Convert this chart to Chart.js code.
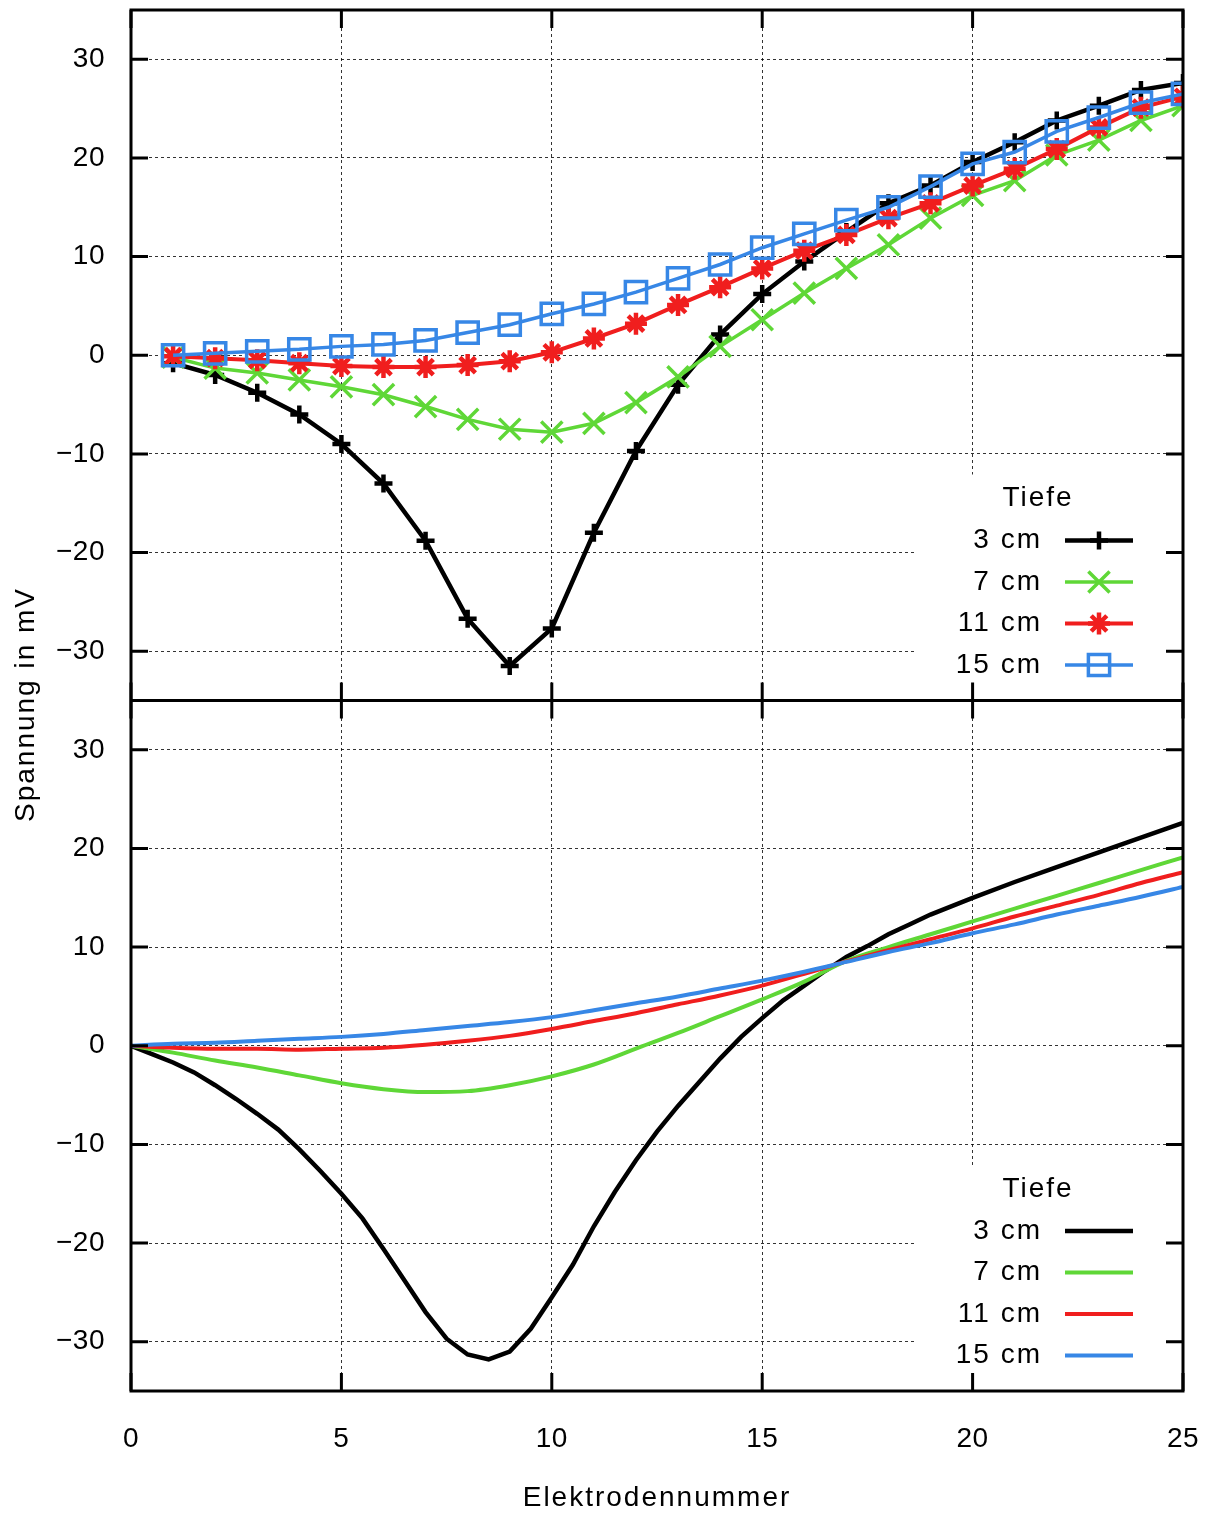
<!DOCTYPE html>
<html>
<head>
<meta charset="utf-8">
<script src="https://cdn.jsdelivr.net/npm/chart.js@4.4.0/dist/chart.umd.min.js"></script>
<style>
  html, body { margin: 0; padding: 0; background: #fff; }
  #c { display: block; }
</style>
</head>
<body>
<canvas id="c" width="1215" height="1515"></canvas>
<script>
// Messwerte (oben): Elektroden 1..25
const electrodes = [1,2,3,4,5,6,7,8,9,10,11,12,13,14,15,16,17,18,19,20,21,22,23,24,25]
const meas3cm  = [-0.8,-2.0,-3.8,-6.0,-9.0,-13.0,-18.8,-26.7,-31.5,-27.7,-18.0,-9.7,-3.0,2.1,6.2,9.5,12.5,15.4,17.2,19.6,21.6,23.8,25.3,26.9,27.6]
const meas7cm  = [-0.2,-1.3,-1.8,-2.5,-3.2,-4.0,-5.2,-6.5,-7.5,-7.8,-6.9,-4.8,-2.2,0.9,3.6,6.3,8.8,11.2,13.9,16.2,17.7,20.3,21.8,23.8,25.3]
const meas11cm = [-0.1,-0.3,-0.5,-0.8,-1.1,-1.2,-1.2,-1.0,-0.6,0.3,1.7,3.2,5.1,6.9,8.8,10.6,12.2,13.9,15.4,17.2,18.9,20.9,23.1,25.1,26.2]
const meas15cm = [0.0,0.2,0.4,0.6,0.9,1.1,1.5,2.3,3.1,4.2,5.2,6.4,7.8,9.2,10.9,12.3,13.7,15.0,17.1,19.4,20.6,22.7,24.1,25.6,26.5]

// Simulation (unten)
const simX = [0,1,2,3,4,5,6,7,8,9,10,11,12,13,14,15,16,17,18,19,20,21,22,23,24,25]
const sim7cm  = [0,-0.7,-1.5,-2.2,-3.0,-3.8,-4.4,-4.7,-4.6,-4.0,-3.1,-1.9,-0.3,1.3,3.0,4.7,6.5,8.6,10.0,11.3,12.6,13.9,15.2,16.5,17.8,19.1]
const sim11cm = [0,-0.2,-0.3,-0.3,-0.4,-0.3,-0.2,0.1,0.5,1.0,1.7,2.5,3.3,4.2,5.1,6.1,7.3,8.55,9.7,10.8,11.9,13.1,14.2,15.3,16.5,17.6]
const sim15cm = [0,0.2,0.3,0.5,0.7,0.9,1.2,1.6,2.0,2.4,2.9,3.6,4.3,5.0,5.8,6.6,7.5,8.5,9.5,10.4,11.4,12.3,13.3,14.2,15.1,16.1]
const simFineX = [0,0.5,1,1.5,2,2.5,3,3.5,4,4.5,5,5.5,6,6.5,7,7.5,8,8.5,9,9.5,10,10.5,11,11.5,12,12.5,13,13.5,14,14.5,15,15.5,16,16.5,17,17.5,18,18.5,19,20,21,22,23,24,25]
const sim3cm  = [0,-0.85,-1.7,-2.7,-4.0,-5.4,-6.9,-8.5,-10.5,-12.7,-15.0,-17.5,-20.6,-23.8,-27.0,-29.7,-31.3,-31.8,-31.0,-28.7,-25.5,-22.2,-18.3,-14.8,-11.6,-8.7,-6.1,-3.7,-1.3,0.9,2.8,4.6,6.1,7.6,9.0,10.1,11.3,12.3,13.3,15.0,16.6,18.1,19.6,21.1,22.6]

const xTicks = [0,5,10,15,20,25]
const yTicks = [-30,-20,-10,0,10,20,30]
const depthLabels = ['3 cm','7 cm','11 cm','15 cm']

const FONT = '"Liberation Sans", Arial, Helvetica, sans-serif'
const colors = ['#000000', 'rgb(95,215,55)', 'rgb(240,30,30)', 'rgb(55,135,230)']
const styles = [
    {pointStyle: 'cross', radius: 9, width: 4.5, pw: 4.5},
    {pointStyle: 'crossRot', radius: 15, width: 3.5, pw: 3.5},
    {pointStyle: 'star', radius: 11, width: 4, pw: 4.5},
    {pointStyle: 'rect', radius: 15, width: 3.5, pw: 3.5}
]

function pts(xs, ys) {
    return xs.map((x, i) => ({x: x, y: ys[i]}))
}
function minus(v) {
    return String(v).replace('-', '\u2212')
}

let datasets = []
let measSets = [meas3cm, meas7cm, meas11cm, meas15cm]
measSets.forEach((vals, i) => {
    datasets.push({
        label: depthLabels[i],
        data: pts(electrodes, vals),
        yAxisID: 'yTop',
        borderColor: colors[i],
        borderWidth: styles[i].width,
        pointStyle: styles[i].pointStyle,
        pointRadius: styles[i].radius,
        pointBorderWidth: styles[i].pw,
        pointBorderColor: colors[i],
        pointBackgroundColor: 'rgba(0,0,0,0)',
        tension: 0,
        order: 4 - i
    })
})
let simSets = [[simFineX, sim3cm], [simX, sim7cm], [simX, sim11cm], [simX, sim15cm]]
simSets.forEach((s, i) => {
    datasets.push({
        label: depthLabels[i],
        data: pts(s[0], s[1]),
        yAxisID: 'yBot',
        borderColor: colors[i],
        borderWidth: i == 0 ? 4.5 : 4,
        pointRadius: 0,
        cubicInterpolationMode: i == 0 ? 'default' : 'monotone',
        tension: i == 0 ? 0 : 0.4,
        order: 4 - i
    })
})

function noPadding(s) {
    s.paddingTop = 0
    s.paddingBottom = 0
    s.paddingLeft = 0
    s.paddingRight = 0
}

function yScale() {
    return {
        type: 'linear',
        position: 'left',
        stack: 'panels',
        stackWeight: 1,
        min: -35,
        max: 35,
        afterBuildTicks: (s) => { s.ticks = yTicks.map(v => ({value: v})) },
        afterFit: (s) => { s.width = 131; noPadding(s) },
        grid: {color: 'rgba(0,0,0,0.8)', lineWidth: 1, drawTicks: false},
        border: {display: false, dash: [3, 3]},
        ticks: {
            padding: 26,
            color: '#000',
            font: {family: FONT, size: 28},
            callback: (v) => minus(v)
        }
    }
}

// Rahmen, Tics, Legenden, Achsentitel
const framePlugin = {
    id: 'frame',
    beforeDatasetsDraw(chart) {
        const ctx = chart.ctx
        const area = chart.chartArea
        ctx.save()
        ctx.fillStyle = '#fff'
        ;['yTop', 'yBot'].forEach(id => {
            const sc = chart.scales[id]
            ctx.fillRect(area.right - 268, sc.bottom - 226, 268, 226)
        })
        ctx.restore()
    },
    afterDatasetsDraw(chart) {
        const ctx = chart.ctx
        const area = chart.chartArea
        const xs = chart.scales.x
        const top = chart.scales.yTop
        const bot = chart.scales.yBot
        const mid = top.bottom
        ctx.save()
        ctx.strokeStyle = '#000'
        ctx.lineWidth = 3
        ctx.setLineDash([])
        ctx.beginPath()
        ;[top, bot].forEach(sc => {
            yTicks.forEach(v => {
                const py = sc.getPixelForValue(v)
                ctx.moveTo(area.left, py); ctx.lineTo(area.left + 17, py)
                ctx.moveTo(area.right - 17, py); ctx.lineTo(area.right, py)
            })
        })
        xTicks.forEach(v => {
            const px = xs.getPixelForValue(v)
            ctx.moveTo(px, area.top); ctx.lineTo(px, area.top + 18)
            ctx.moveTo(px, area.bottom - 18); ctx.lineTo(px, area.bottom)
            ctx.moveTo(px, mid - 18); ctx.lineTo(px, mid + 18)
        })
        ctx.stroke()
        ctx.strokeRect(area.left, area.top, area.right - area.left, area.bottom - area.top)
        ctx.beginPath()
        ctx.moveTo(area.left, mid); ctx.lineTo(area.right, mid)
        ctx.stroke()

        // Legenden
        ctx.letterSpacing = '2px'
        ctx.font = '28px ' + FONT
        ctx.textBaseline = 'middle'
        const legends = [{sc: top, marks: true}, {sc: bot, marks: false}]
        legends.forEach(lg => {
            const b = lg.sc.bottom
            ctx.fillStyle = '#000'
            ctx.textAlign = 'center'
            ctx.fillText('Tiefe', area.right - 145, b - 202)
            depthLabels.forEach((lab, i) => {
                const yy = b - 160 + i * 41.5
                ctx.textAlign = 'right'
                ctx.fillStyle = '#000'
                ctx.fillText(lab, area.right - 141, yy)
                ctx.strokeStyle = colors[i]
                ctx.lineWidth = lg.marks ? styles[i].width : (i == 0 ? 4.5 : 4)
                ctx.beginPath()
                ctx.moveTo(area.right - 118, yy); ctx.lineTo(area.right - 50, yy)
                ctx.stroke()
                if (lg.marks) {
                    ctx.lineWidth = styles[i].pw
                    ctx.fillStyle = 'rgba(0,0,0,0)'
                    Chart.helpers.drawPoint(ctx, {
                        pointStyle: styles[i].pointStyle,
                        radius: styles[i].radius,
                        rotation: 0,
                        borderWidth: styles[i].pw
                    }, area.right - 84, yy)
                }
            })
        })

        // Achsentitel
        ctx.fillStyle = '#000'
        ctx.textAlign = 'center'
        ctx.fillText('Elektrodennummer', (area.left + area.right) / 2, 1498)
        ctx.translate(26, mid + 4)
        ctx.rotate(-Math.PI / 2)
        ctx.fillText('Spannung in mV', 0, 0)
        ctx.restore()
    }
}

const spacingPlugin = {
    id: 'spacing',
    beforeDraw(chart) { chart.ctx.letterSpacing = '0.5px' }
}

new Chart(document.getElementById('c').getContext('2d'), {
    type: 'line',
    data: {datasets: datasets},
    options: {
        responsive: false,
        animation: false,
        devicePixelRatio: 1,
        layout: {autoPadding: false, padding: {top: 10, right: 32, left: 0, bottom: 0}},
        plugins: {legend: {display: false}, tooltip: {enabled: false}},
        scales: {
            x: {
                type: 'linear',
                min: 0,
                max: 25,
                afterBuildTicks: (s) => { s.ticks = xTicks.map(v => ({value: v})) },
                afterFit: (s) => { s.height = 124; noPadding(s) },
                grid: {color: 'rgba(0,0,0,0.8)', lineWidth: 1, drawTicks: false},
                border: {display: false, dash: [3, 3]},
                ticks: {padding: 31, color: '#000', font: {family: FONT, size: 28}, maxRotation: 0}
            },
            yBot: yScale(),
            yTop: yScale()
        }
    },
    plugins: [spacingPlugin, framePlugin]
})
</script>
</body>
</html>
